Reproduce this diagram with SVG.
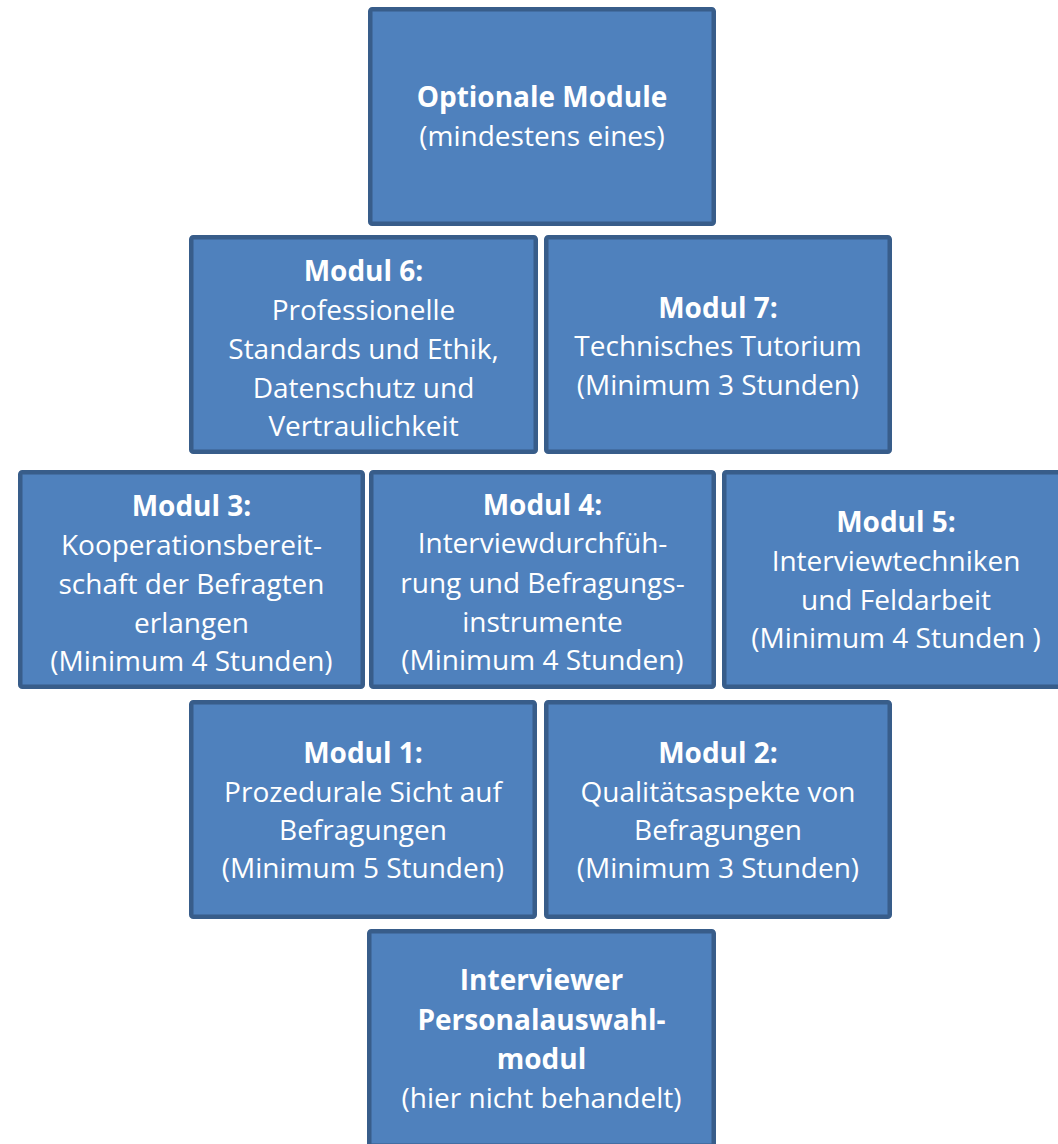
<svg xmlns="http://www.w3.org/2000/svg" width="1058" height="1144" viewBox="0 0 1058 1144">
  <style>
    .box { fill: #4F81BD; stroke: #385D8A; stroke-width: 4.5; }
    text { font-family: "Open Sans", "Noto Sans", "Liberation Sans", sans-serif; font-size: 28px; fill: #FFFFFF; text-anchor: middle; }
    .b { font-weight: bold; }
  </style>
  <rect width="1058" height="1144" fill="#FFFFFF"/>

  <!-- top: optional modules -->
  <g id="optional">
    <rect class="box" x="370.25" y="9.25" width="343.5" height="214.5" rx="2"/>
    <text x="542" y="107" class="b">Optionale Module</text>
    <text x="542" y="146">(mindestens eines)</text>
  </g>

  <!-- second row -->
  <g id="modul6">
    <rect class="box" x="191.25" y="237.25" width="344.5" height="214.5" rx="2"/>
    <text x="363.5" y="281" class="b">Modul 6:</text>
    <text x="363.5" y="320">Professionelle</text>
    <text x="363.5" y="359">Standards und Ethik,</text>
    <text x="363.5" y="398">Datenschutz und</text>
    <text x="363.5" y="436">Vertraulichkeit</text>
  </g>
  <g id="modul7">
    <rect class="box" x="546.25" y="237.25" width="343.5" height="214.5" rx="2"/>
    <text x="718" y="318" class="b">Modul 7:</text>
    <text x="718" y="356">Technisches Tutorium</text>
    <text x="718" y="395">(Minimum 3 Stunden)</text>
  </g>

  <!-- third row -->
  <g id="modul3">
    <rect class="box" x="20.25" y="472.25" width="342.5" height="214.5" rx="2"/>
    <text x="191.5" y="516" class="b">Modul 3:</text>
    <text x="191.5" y="555">Kooperationsbereit-</text>
    <text x="191.5" y="594">schaft der Befragten</text>
    <text x="191.5" y="633">erlangen</text>
    <text x="191.5" y="671">(Minimum 4 Stunden)</text>
  </g>
  <g id="modul4">
    <rect class="box" x="371.25" y="472.25" width="342.5" height="214.5" rx="2"/>
    <text x="542.5" y="515" class="b">Modul 4:</text>
    <text x="542.5" y="553">Interviewdurchfüh-</text>
    <text x="542.5" y="593">rung und Befragungs-</text>
    <text x="542.5" y="632">instrumente</text>
    <text x="542.5" y="670">(Minimum 4 Stunden)</text>
  </g>
  <g id="modul5">
    <rect class="box" x="724.25" y="472.25" width="343.5" height="214.5" rx="2"/>
    <text x="896" y="532" class="b">Modul 5:</text>
    <text x="896" y="571">Interviewtechniken</text>
    <text x="896" y="610">und Feldarbeit</text>
    <text x="896" y="648">(Minimum 4 Stunden )</text>
  </g>

  <!-- fourth row -->
  <g id="modul1">
    <rect class="box" x="191.25" y="702.25" width="343.5" height="214.5" rx="2"/>
    <text x="363" y="763" class="b">Modul 1:</text>
    <text x="363" y="802">Prozedurale Sicht auf</text>
    <text x="363" y="840">Befragungen</text>
    <text x="363" y="878">(Minimum 5 Stunden)</text>
  </g>
  <g id="modul2">
    <rect class="box" x="546.25" y="702.25" width="343.5" height="214.5" rx="2"/>
    <text x="718" y="763" class="b">Modul 2:</text>
    <text x="718" y="802">Qualitätsaspekte von</text>
    <text x="718" y="840">Befragungen</text>
    <text x="718" y="878">(Minimum 3 Stunden)</text>
  </g>

  <!-- base: interviewer selection -->
  <g id="auswahl">
    <rect class="box" x="369.25" y="931.25" width="344.5" height="214.5" rx="2"/>
    <text x="541.5" y="990" class="b">Interviewer</text>
    <text x="541.5" y="1030" class="b">Personalauswahl-</text>
    <text x="541.5" y="1069" class="b">modul</text>
    <text x="541.5" y="1108">(hier nicht behandelt)</text>
  </g>

  <g id="connectors"/>
</svg>
